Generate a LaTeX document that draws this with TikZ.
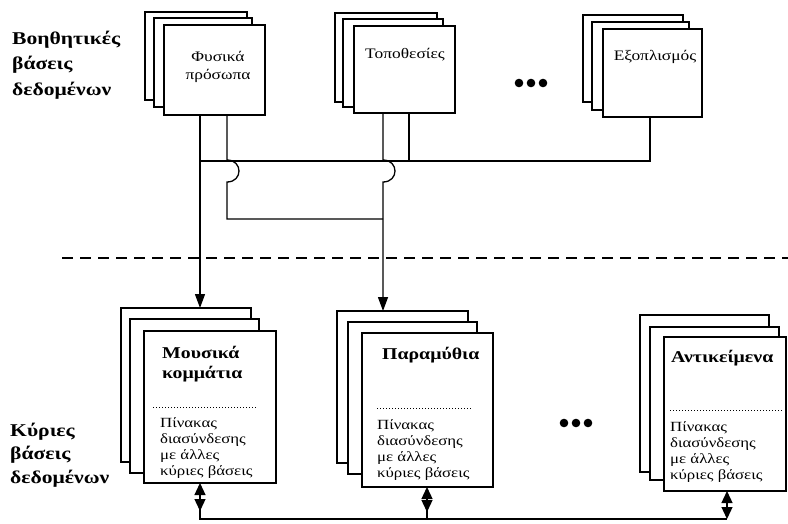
\documentclass[tikz,border=0pt]{standalone}
\usepackage{fontspec}
\setmainfont{Liberation Serif}[FakeStretch=1.2]
\usetikzlibrary{arrows.meta}
\newcommand\sheetnode[5]{\node[sheet, minimum width=#4pt, minimum height=#5pt] (#1) at (#2,#3) {};}
\begin{document}
\begin{tikzpicture}[x=1pt,y=-1pt,
  sheet/.style={draw, fill=white, line width=1.3pt, anchor=north west, inner sep=0pt, outer sep=0pt},
  conn/.style={line width=1.3pt},
  arrowin/.style={conn, -{Triangle[width=10pt,length=14pt]}},
  dbl/.style={conn, {Triangle[width=11pt,length=12pt]}-{Triangle[width=11pt,length=12pt]}},
  sidelabel/.style={align=left, anchor=base west, inner sep=0pt, font=\fontsize{18}{25.5}\selectfont\bfseries},
  toplabel/.style={align=center, anchor=base, inner sep=0pt, font=\fontsize{14.5}{18}\selectfont},
  title/.style={align=left, anchor=base west, inner sep=0pt, font=\fontsize{16.5}{20}\selectfont\bfseries},
  small/.style={align=left, anchor=base west, inner sep=0pt, font=\fontsize{14}{16}\selectfont},
  sep/.style={line width=0.8pt, dash pattern=on 1pt off 2pt},
  divider/.style={line width=2pt, dash pattern=on 11pt off 7pt}]
\useasboundingbox (0,0) rectangle (788,523);

% side labels (anchor = baseline of the last line)
\node[sidelabel] (auxlbl) at (12,95) {Βοηθητικές\\βάσεις\\δεδομένων};
\node[sidelabel, font=\fontsize{18}{23.5}\selectfont\bfseries] (mainlbl) at (10,483) {Κύριες\\βάσεις\\δεδομένων};

% top stacks
\sheetnode{fysB}{145}{12}{102}{88}
\sheetnode{fysM}{154}{18}{98}{89}
\sheetnode{fysF}{164}{25}{101}{90}
\node[toplabel] (fysT) at (218,79) {Φυσικά\\πρόσωπα};

\sheetnode{topB}{335}{13}{102}{89}
\sheetnode{topM}{343}{19}{100}{88}
\sheetnode{topF}{354}{26}{101}{87}
\node[toplabel] (topT) at (405,58) {Τοποθεσίες};

\sheetnode{exoB}{583}{15}{100}{87}
\sheetnode{exoM}{592}{22}{97}{88}
\sheetnode{exoF}{603}{29}{99}{88}
\node[toplabel] (exoT) at (655,60) {Εξοπλισμός};

\foreach \cx in {519,531,543} \fill (\cx,83) circle[radius=4.3pt];

% divider
\coordinate (dvL) at (62,258);
\coordinate (dvR) at (788,258);
\draw[divider] (dvL) -- (dvR);

% bottom stacks
\sheetnode{musB}{121}{308}{130}{154}
\sheetnode{musM}{130}{319}{129}{154}
\sheetnode{musF}{144}{331}{132}{152}
\node[title] (musT) at (162,378) {Μουσικά\\κομμάτια};
\draw[sep] (153,407) -- (257,407);
\node[small] (musS) at (160,475) {Πίνακας\\διασύνδεσης\\με άλλες\\κύριες βάσεις};

\sheetnode{parB}{337}{311}{131}{152}
\sheetnode{parM}{348}{322}{129}{152}
\sheetnode{parF}{362}{333}{131}{154}
\node[title] (parT) at (382,359) {Παραμύθια};
\draw[sep] (377,408) -- (472,408);
\node[small] (parS) at (377,477) {Πίνακας\\διασύνδεσης\\με άλλες\\κύριες βάσεις};

\sheetnode{antB}{640}{315}{129}{157}
\sheetnode{antM}{650}{327}{129}{153}
\sheetnode{antF}{664}{337}{122}{154}
\node[title] (antT) at (671,362) {Αντικείμενα};
\draw[sep] (670,410) -- (782,410);
\node[small] (antS) at (670,479) {Πίνακας\\διασύνδεσης\\με άλλες\\κύριες βάσεις};

\foreach \cx in {564,576,588} \fill (\cx,423) circle[radius=4.3pt];

% x positions of connectors
\coordinate (xa) at (200,0);
\coordinate (xb) at (227,0);
\coordinate (xc) at (383,0);
\coordinate (xd) at (409,0);
\coordinate (xe) at (650,0);
\coordinate (xf) at (427,0);
\coordinate (xg) at (727,0);

% top connectors
\draw[arrowin] (fysF.south -| xa) -- (musB.north -| xa);
\draw[conn] (exoF.south -| xe) -- (650,161) -- (200,161);
\draw[conn] (topF.south -| xd) -- (409,161);
\draw[conn] (fysF.south -| xb) -- (227,160) .. controls (243,160) and (243,182) .. (227,182) -- (227,219) -- (383,219);
\draw[arrowin] (topF.south -| xc) -- (383,160) .. controls (399,160) and (399,182) .. (383,182) -- (parB.north -| xc);

% bottom connectors
\coordinate (busL) at (200,519);
\coordinate (busM) at (427,519);
\coordinate (busR) at (727,519);
\draw[dbl] (musF.south -| xa) -- (200,511);
\draw[dbl] (parF.south -| xf) -- (427,512);
\draw[dbl] (antF.south -| xg) -- (busR);
\draw[conn] (200,505) -- (busL) -- (busR);
\draw[conn] (427,505) -- (busM);
\end{tikzpicture}
\end{document}
